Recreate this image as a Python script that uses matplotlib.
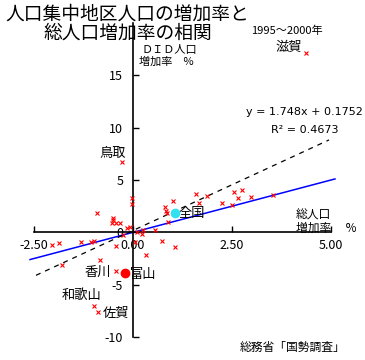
import matplotlib
matplotlib.use("Agg")
import matplotlib.pyplot as plt

plt.rcParams['font.family'] = ['Noto Sans CJK JP', 'DejaVu Sans']
plt.rcParams['axes.unicode_minus'] = False

# total population growth (%) vs DID population growth (%), 1995-2000
total_growth = [4.37, -0.27, -0.02, -0.02, -0.91, -0.51, -0.50, -0.54, -0.43, -0.32,
                -0.15, -0.08, -0.25, 0.09, 0.23, 0.26, 0.56, 0.72, 1.06, 0.05,
                0.32, -0.44, -1.05, -0.99, -1.31, -2.04, -1.86, -0.83, -1.80, -0.44,
                -0.98, -0.88, 0.81, 0.83, 0.86, 0.89, 1.02, 1.59, 1.88, 1.67,
                2.24, 2.49, 2.56, 2.76, 2.66, 2.98, 3.54]
did_growth = [17.1, 6.7, 3.3, 2.7, 1.86, 1.41, 1.15, 0.87, 0.91, 0.93,
              0.45, 0.51, -0.29, 0.03, -0.13, 0.19, 0.24, -0.87, -1.41, -0.91,
              -2.12, -1.28, -0.93, -0.80, -0.93, -1.18, -1.03, -2.63, -3.08, -3.72,
              -7.02, -7.57, 2.40, 2.05, 1.80, 0.96, 3.03, 3.65, 3.46, 2.82,
              2.82, 2.60, 3.88, 4.04, 3.24, 3.34, 3.56]

toyama = (-0.20, -3.91)
national = (1.06, 1.89)

# labelled points: name, x, y, offset (pt), alignment
labels = [
    ("滋賀", 4.37, 17.1, (-3, 4.5), "right"),
    ("鳥取", -0.27, 6.7, (-7, 6.5), "center"),
    ("香川", -0.44, -3.72, (-3, -1), "right"),
    ("和歌山", -0.98, -7.02, (-9, 7.5), "center"),
    ("佐賀", -0.88, -7.57, (3, -1), "left"),
    ("富山", toyama[0], toyama[1], (3.5, -1), "left"),
    ("全国", national[0], national[1], (2.5, -0.5), "left"),
]

slope, intercept, r2 = 1.748, 0.1752, 0.4673
trend_x = [-2.45, 4.95]
ref_x = [-2.6, 5.1]

fig = plt.figure(figsize=(3.65, 3.6), dpi=100)
ax = fig.add_axes([34 / 365, 23 / 360, 297 / 365, 314 / 360])
ax.set_xlim(-2.5, 5.0)
ax.set_ylim(-10, 20)

ax.plot(ref_x, ref_x, color='#0000ff', lw=1.1, clip_on=False, zorder=2)
ax.plot(trend_x, [slope * v + intercept for v in trend_x], color='black', lw=0.9,
        linestyle=(0, (4, 4)), zorder=2)
ax.plot(total_growth, did_growth, 'x', color='red', ms=3.5, mew=0.8, zorder=3)
ax.plot(*toyama, 'o', color='red', ms=6, zorder=4)
ax.plot(*national, 'o', color='#33e0f0', ms=6, zorder=4)

for name, lx, ly, off, ha in labels:
    ax.annotate(name, (lx, ly), xytext=off, textcoords='offset points',
                ha=ha, va='center', fontsize=9.5)

for s in ['top', 'right']:
    ax.spines[s].set_visible(False)
ax.spines['left'].set_position(('data', 0))
ax.spines['bottom'].set_position(('data', 0))
ax.spines['left'].set_linewidth(1.2)
ax.spines['bottom'].set_linewidth(1.2)

ax.set_xticks([-2.5, 0, 2.5, 5.0])
ax.set_xticklabels(['-2.50', '0.00', '2.50', '5.00'])
ax.set_yticks([-10, -5, 0, 5, 10, 15])
ax.set_yticklabels(['-10', '-5', '0', '5', '10', '15'])
ax.tick_params(axis='x', direction='in', length=4, width=1, pad=5, labelsize=9)
ax.tick_params(axis='y', direction='in', length=4, width=1, pad=7, labelsize=9)

fig.text(127 / 365, 1 - 14 / 360, "人口集中地区人口の増加率と", ha='center', va='center', fontsize=13.5)
fig.text(128 / 365, 1 - 33 / 360, "総人口増加率の相関", ha='center', va='center', fontsize=13.5)
fig.text(287 / 365, 1 - 31 / 360, "1995～2000年", ha='center', va='center', fontsize=8)
fig.text(142 / 365, 1 - 50 / 360, "ＤＩＤ人口", ha='left', va='center', fontsize=8)
fig.text(139 / 365, 1 - 62 / 360, "増加率　%", ha='left', va='center', fontsize=8)
fig.text(304 / 365, 1 - 112 / 360, f"y = {slope}x + {intercept}", ha='center', va='center',
         fontsize=8, family='DejaVu Sans')
fig.text(305 / 365, 1 - 130 / 360, f"R² = {r2}", ha='center', va='center',
         fontsize=8, family='DejaVu Sans')
fig.text(296 / 365, 1 - 215 / 360, "総人口", ha='left', va='center', fontsize=8.5)
fig.text(296 / 365, 1 - 228 / 360, "増加率　 %", ha='left', va='center', fontsize=8.5)
fig.text(240 / 365, 1 - 347 / 360, "総務省「国勢調査」", ha='left', va='center', fontsize=8.5)

fig.savefig("out.png", dpi=100)
